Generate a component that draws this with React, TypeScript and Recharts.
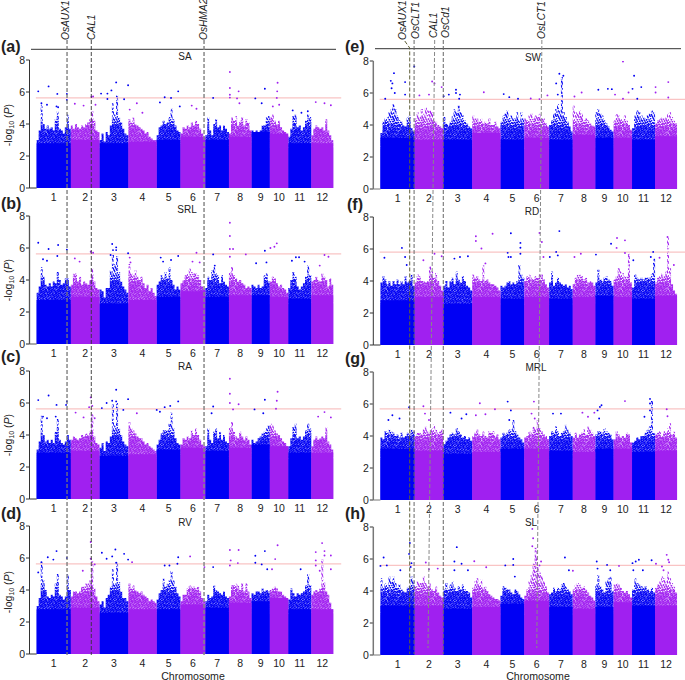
import React from 'react';
import { ComposedChart, LineChart, Area, Line, Scatter, XAxis, YAxis, ReferenceLine } from 'recharts';

const BLUE = '#0000f4';
const PURPLE = '#a020f0';
const PINK = '#f9c4c4';

// chromosome lengths in Mb
const chromLabels = ['1', '2', '3', '4', '5', '6', '7', '8', '9', '10', '11', '12'];
const chromLengths = [43, 36, 36.4, 35.5, 30, 31.2, 29.7, 28.4, 23, 23.2, 29, 27.6];
const yTicks = [0, 2, 4, 6, 8];

// height below which the SNPs merge into a solid block, per chromosome
const saFloor = [2.8, 3.0, 2.8, 2.9, 3.0, 3.2, 3.0, 3.2, 3.5, 3.4, 2.8, 2.8];
const srlFloor = [2.75, 2.95, 2.55, 2.75, 2.95, 3.3, 2.95, 3.05, 3.05, 2.95, 2.85, 3.05];
const raFloor = [2.9, 3.0, 2.7, 2.8, 3.1, 3.2, 3.0, 3.2, 3.4, 3.3, 2.9, 2.9];
const rvFloor = [2.8, 2.9, 2.6, 2.8, 2.8, 3.1, 2.9, 3.2, 3.3, 3.5, 2.8, 2.8];
const swFloor = [3.2, 3.1, 3.1, 3.5, 3.1, 3.2, 3.1, 3.4, 3.2, 3.2, 3.1, 3.3];
const rdFloor = [2.8, 3.0, 2.6, 3.0, 2.9, 3.0, 2.9, 3.0, 3.1, 3.0, 2.9, 3.1];
const mrlFloor = [3.2, 3.1, 2.9, 3.0, 3.2, 3.2, 3.1, 3.0, 3.2, 3.2, 3.0, 3.1];
const slFloor = [3.1, 3.1, 2.9, 3.0, 3.2, 3.4, 3.0, 2.9, 3.0, 3.3, 3.1, 3.1];

// top of the dense cloud along each chromosome, -log10(P)
const saTop = [
  [3.0, 3.6, 5.2, 4.0, 3.7, 3.9, 3.7, 3.8, 3.6, 4.3, 4.8, 3.7, 3.6, 3.4, 3.8, 4.6, 3.7],
  [3.9, 3.7, 4.0, 3.8, 3.7, 3.9, 3.8, 4.0, 4.1, 4.3, 4.8, 4.2, 3.6, 3.5],
  [3.0, 3.4, 2.9, 3.5, 3.3, 3.9, 5.3, 4.6, 5.8, 4.4, 4.1, 3.7, 3.4, 3.3],
  [4.3, 4.1, 4.4, 4.0, 3.9, 3.8, 3.7, 3.6, 3.4, 3.5, 3.2, 3.1, 3.0, 3.0],
  [3.3, 3.8, 3.9, 4.2, 4.0, 4.1, 4.5, 5.0, 4.3, 3.9, 3.6, 3.5],
  [3.4, 3.8, 3.7, 3.9, 3.8, 4.1, 3.9, 4.2, 4.0, 3.7, 3.4, 3.2],
  [3.3, 4.4, 3.6, 3.3, 4.0, 4.3, 3.8, 3.9, 3.6, 3.9, 3.7, 3.5],
  [3.4, 4.4, 4.2, 4.5, 3.9, 4.2, 4.4, 3.9, 4.3, 4.1, 3.6],
  [3.6, 3.5, 3.6, 3.5, 3.6, 3.9, 3.9, 4.4, 4.5],
  [4.4, 4.6, 4.2, 4.0, 4.2, 3.8, 3.6, 3.5, 3.3],
  [3.2, 3.7, 4.5, 4.6, 3.8, 3.9, 3.6, 3.8, 4.2, 4.6, 4.5],
  [3.3, 3.7, 3.9, 3.8, 3.7, 3.8, 3.6, 4.3, 3.6, 3.3, 3.0],
];
const srlTop = [
  [3.2, 3.6, 4.8, 4.2, 3.7, 3.6, 3.8, 3.6, 3.9, 3.8, 4.5, 4.0, 3.7, 3.8, 4.1, 4.1, 3.6],
  [3.7, 4.4, 4.4, 3.9, 4.2, 3.7, 3.9, 3.8, 3.7, 4.0, 4.7, 3.9, 3.5, 3.4],
  [3.4, 3.3, 2.9, 3.5, 3.5, 4.6, 5.6, 5.0, 5.5, 4.5, 3.9, 3.6, 3.4, 3.2],
  [5.0, 4.4, 4.3, 4.6, 4.2, 4.0, 4.2, 3.8, 3.5, 3.7, 3.3, 3.5, 3.2, 3.0],
  [3.7, 3.9, 4.3, 4.1, 4.5, 4.1, 4.8, 4.0, 3.7, 3.4, 3.6, 3.4],
  [3.8, 4.0, 4.3, 4.4, 4.7, 4.5, 4.4, 4.4, 4.3, 4.0, 3.6, 3.4],
  [3.5, 4.2, 4.0, 4.6, 4.8, 4.4, 4.3, 3.8, 4.3, 3.9, 3.7, 3.6],
  [4.5, 4.8, 4.3, 4.1, 3.9, 4.0, 3.8, 3.7, 3.5, 3.6, 3.5],
  [3.7, 3.6, 3.5, 3.7, 3.5, 3.6, 4.3, 4.4, 3.9],
  [3.9, 4.2, 4.1, 3.8, 3.6, 3.7, 3.5, 3.4, 3.2],
  [3.5, 4.0, 4.5, 4.2, 3.6, 3.4, 3.6, 3.8, 4.2, 4.9, 4.3],
  [3.9, 4.0, 4.2, 4.0, 3.9, 4.4, 4.2, 4.0, 3.6, 4.1, 3.7],
];
const raTop = [
  [3.1, 3.6, 5.2, 4.0, 3.6, 3.7, 3.5, 3.7, 3.5, 4.2, 5.0, 3.7, 3.5, 3.4, 3.6, 4.0, 3.7],
  [3.7, 3.9, 3.8, 3.7, 3.8, 4.0, 3.9, 4.1, 4.0, 4.2, 5.3, 3.9, 3.5, 3.4],
  [3.2, 3.5, 3.0, 3.6, 3.5, 3.9, 5.9, 4.6, 6.0, 4.4, 4.0, 3.6, 3.4, 3.3],
  [4.8, 4.4, 4.3, 4.1, 3.9, 3.8, 3.8, 3.6, 3.4, 3.5, 3.3, 3.2, 3.1, 3.0],
  [3.4, 3.7, 4.1, 4.3, 4.3, 4.3, 4.7, 5.4, 4.4, 3.8, 3.5, 3.4],
  [3.4, 3.8, 3.7, 3.9, 3.8, 4.3, 4.0, 4.4, 4.0, 3.7, 3.4, 3.3],
  [3.3, 4.4, 3.7, 3.5, 4.2, 4.4, 3.8, 4.2, 3.7, 4.0, 3.6, 3.5],
  [4.5, 4.8, 4.2, 3.9, 3.8, 4.2, 3.9, 3.7, 3.9, 3.7, 3.4],
  [3.7, 3.5, 3.6, 3.8, 3.9, 4.1, 4.2, 4.4, 4.6],
  [4.7, 4.6, 4.3, 4.1, 4.0, 3.8, 3.6, 3.5, 3.3],
  [3.3, 3.8, 4.5, 4.7, 3.8, 3.9, 3.7, 3.9, 4.3, 4.7, 4.4],
  [3.3, 3.7, 3.9, 3.7, 3.8, 3.9, 3.8, 4.5, 3.6, 3.4, 3.1],
];
const rvTop = [
  [3.0, 3.5, 5.7, 4.6, 4.0, 3.6, 3.5, 3.7, 3.6, 4.4, 5.0, 3.7, 3.6, 3.4, 3.6, 5.0, 4.0],
  [3.6, 3.9, 3.9, 3.8, 3.9, 4.2, 4.2, 4.4, 4.4, 4.6, 5.8, 4.1, 3.6, 3.3],
  [3.1, 3.3, 2.9, 3.5, 3.7, 4.2, 5.3, 4.4, 5.7, 4.5, 3.9, 3.5, 3.5, 3.3],
  [4.4, 4.1, 4.3, 4.0, 3.9, 3.8, 3.9, 3.7, 3.6, 3.5, 3.3, 3.4, 3.3, 3.2],
  [3.4, 3.8, 4.0, 4.7, 4.2, 4.4, 4.6, 5.2, 4.6, 4.2, 3.8, 3.6],
  [3.3, 3.7, 3.7, 4.1, 4.3, 4.2, 4.2, 4.1, 4.2, 3.9, 3.5, 3.3],
  [3.3, 3.7, 3.5, 3.6, 4.3, 4.0, 3.9, 3.8, 3.7, 3.9, 3.6, 3.5],
  [3.6, 4.3, 4.3, 4.4, 4.3, 4.0, 4.4, 3.9, 4.4, 3.9, 3.5],
  [3.8, 3.7, 3.9, 3.9, 3.8, 4.1, 3.9, 4.0, 3.9],
  [4.0, 4.1, 4.2, 4.1, 3.9, 3.9, 3.7, 3.6, 3.4],
  [3.4, 4.1, 3.8, 3.6, 3.8, 3.7, 3.8, 3.9, 4.3, 5.0, 4.3],
  [3.7, 3.9, 4.0, 3.9, 4.1, 5.9, 4.5, 3.9, 3.7, 3.2, 2.8],
];
const swTop = [
  [3.5, 4.2, 4.4, 4.5, 4.8, 5.0, 5.3, 5.0, 4.6, 4.3, 4.2, 4.0, 3.9, 4.5, 4.6, 3.8, 3.6],
  [4.4, 4.8, 4.5, 5.0, 4.7, 5.1, 4.9, 4.9, 4.8, 4.4, 4.2, 4.0, 3.9, 3.8],
  [4.5, 4.1, 4.0, 4.2, 4.6, 5.0, 4.8, 5.2, 4.8, 4.6, 4.3, 4.1, 3.9, 3.8],
  [4.6, 4.4, 4.4, 4.2, 4.4, 4.1, 4.2, 4.1, 4.4, 4.0, 4.0, 4.2, 3.9, 3.8],
  [4.2, 4.6, 4.7, 4.9, 4.5, 4.6, 4.4, 4.4, 4.8, 4.3, 4.8, 4.4],
  [4.4, 4.3, 4.6, 4.7, 4.4, 4.6, 4.5, 4.7, 4.4, 4.4, 4.1, 3.9],
  [4.0, 4.3, 4.7, 5.0, 5.3, 4.9, 7.0, 4.8, 4.5, 4.2, 3.9, 3.6],
  [5.2, 4.8, 4.7, 4.9, 4.7, 4.3, 4.4, 4.3, 4.1, 4.0, 3.9],
  [4.8, 5.0, 4.7, 4.6, 4.3, 4.1, 3.9, 3.7, 3.6],
  [4.3, 4.7, 4.6, 4.4, 4.3, 4.6, 4.3, 4.0, 3.7],
  [3.8, 4.6, 4.9, 4.8, 4.6, 4.5, 4.4, 4.6, 4.7, 4.9, 4.8],
  [4.1, 4.3, 4.4, 4.5, 4.4, 4.5, 4.7, 4.8, 4.5, 4.3, 4.1],
];
const rdTop = [
  [3.9, 4.3, 4.1, 3.8, 4.0, 3.7, 4.0, 3.8, 4.1, 3.8, 4.0, 3.8, 4.3, 3.9, 4.0, 4.4, 3.7],
  [3.9, 4.4, 4.3, 4.0, 4.0, 3.9, 4.0, 5.0, 4.6, 4.2, 4.5, 4.0, 3.7, 3.4],
  [3.7, 4.0, 3.6, 4.0, 4.2, 3.8, 4.6, 4.1, 3.9, 4.3, 4.0, 3.7, 3.6, 3.4],
  [4.4, 4.2, 4.3, 4.1, 4.0, 5.0, 4.0, 4.1, 3.9, 3.8, 3.8, 3.7, 3.6, 3.4],
  [3.7, 3.6, 3.7, 3.9, 4.0, 3.8, 3.9, 3.8, 4.0, 5.0, 4.4, 4.2],
  [4.0, 4.3, 4.4, 4.2, 4.1, 4.3, 4.2, 4.4, 4.4, 4.1, 3.8, 3.6],
  [3.9, 4.6, 3.7, 3.9, 4.2, 3.9, 3.8, 3.7, 3.8, 3.6, 3.7, 3.5],
  [3.8, 4.2, 4.4, 4.4, 4.3, 4.1, 4.2, 3.9, 4.0, 3.9, 3.7],
  [3.9, 4.7, 4.1, 4.0, 4.2, 4.3, 4.1, 4.0, 3.7],
  [4.1, 4.3, 4.8, 4.6, 4.5, 4.3, 4.3, 5.7, 3.9],
  [3.6, 4.4, 4.2, 4.1, 4.2, 4.1, 4.2, 4.2, 4.2, 4.5, 5.4],
  [3.9, 4.2, 4.3, 4.5, 4.3, 4.6, 6.7, 4.8, 3.8, 3.4, 3.2],
];
const mrlTop = [
  [3.9, 3.8, 4.3, 4.2, 4.4, 4.3, 4.2, 4.0, 4.1, 3.9, 4.2, 3.9, 4.0, 4.2, 4.1, 4.4, 4.3],
  [4.0, 4.2, 4.2, 4.1, 4.4, 4.6, 4.3, 4.2, 4.5, 4.7, 4.4, 4.2, 4.3, 4.4],
  [3.5, 3.7, 3.9, 4.1, 4.2, 4.1, 4.5, 4.3, 4.1, 3.9, 4.0, 3.8, 3.9, 3.7],
  [4.0, 4.2, 4.4, 4.1, 4.0, 4.3, 4.0, 3.9, 4.3, 4.2, 4.3, 4.0, 4.1, 3.8],
  [3.9, 4.2, 4.1, 4.2, 4.4, 4.4, 5.0, 4.3, 4.1, 3.9, 3.8, 3.6],
  [3.9, 4.0, 4.3, 4.2, 4.6, 4.4, 5.0, 4.5, 4.3, 4.1, 4.0, 3.8],
  [4.0, 4.3, 4.2, 4.6, 4.3, 4.0, 4.2, 4.3, 4.7, 4.4, 4.2, 4.0],
  [3.9, 4.2, 3.9, 4.1, 4.2, 4.4, 4.1, 4.6, 4.4, 4.2, 4.0],
  [4.1, 4.3, 4.3, 4.2, 4.5, 4.3, 4.2, 4.1, 3.8],
  [3.8, 4.3, 4.1, 3.9, 4.0, 3.9, 4.2, 4.1, 3.6],
  [3.6, 3.7, 3.9, 3.8, 4.0, 4.0, 4.2, 4.4, 4.6, 6.2, 4.2],
  [4.1, 4.2, 4.3, 4.0, 4.3, 4.2, 4.5, 4.8, 4.1, 4.3, 3.9],
];
const slTop = [
  [4.8, 4.2, 4.5, 4.4, 4.9, 4.6, 4.9, 4.5, 4.2, 4.4, 4.1, 4.0, 3.9, 4.2, 4.3, 4.9, 4.6],
  [4.3, 4.6, 4.5, 4.5, 4.9, 4.5, 4.3, 4.5, 4.1, 4.0, 4.3, 3.9, 3.7, 3.6],
  [4.1, 4.5, 4.1, 4.4, 4.6, 4.2, 4.0, 4.3, 4.1, 4.4, 4.1, 4.0, 3.9, 3.6],
  [4.2, 4.6, 4.8, 4.5, 4.7, 4.2, 4.3, 4.0, 3.8, 3.7, 3.6, 3.5, 3.5, 3.4],
  [3.7, 4.3, 4.2, 4.1, 4.1, 3.9, 3.8, 4.1, 4.0, 3.8, 3.6, 3.5],
  [3.7, 4.1, 4.6, 5.0, 5.7, 6.7, 5.5, 5.2, 4.9, 4.6, 4.3, 3.9],
  [3.8, 3.9, 4.2, 4.0, 4.2, 4.1, 4.4, 4.5, 4.3, 4.1, 4.0, 3.8],
  [4.1, 4.4, 4.5, 4.4, 4.2, 4.3, 4.1, 3.9, 3.7, 3.6, 3.4],
  [4.4, 5.0, 4.3, 4.1, 3.9, 4.6, 4.8, 4.9, 4.0],
  [4.4, 4.5, 4.4, 4.2, 4.0, 3.9, 4.0, 3.8, 3.6],
  [4.1, 4.8, 4.5, 4.4, 4.3, 4.2, 4.3, 4.1, 4.0, 4.2, 3.9],
  [4.2, 4.4, 4.6, 4.9, 4.8, 4.6, 5.2, 4.8, 4.5, 4.3, 3.9],
];

// single SNPs above the cloud: [genome position in Mb, -log10(P)]
const saDots = [[2, 6.04], [15, 6.35], [26, 5.88], [38, 5.88], [38, 5.5], [6, 5.3], [13, 5.2], [25, 5.1], [27, 5.05], [48, 5.27], [59, 5.15], [69, 5.7], [71, 5.72], [74, 5.2], [81, 5.9], [89, 5.9], [94, 6.1], [100, 6.6], [110, 5.55], [115, 6.42], [89, 5.56], [117, 4.9], [126, 5.3], [133, 4.7], [161, 5.67], [155, 5.35], [169, 5.63], [178, 6.04], [180, 5.1], [195, 5.15], [201, 4.95], [222, 5.63], [243, 7.25], [243, 6.25], [243, 5.83], [243, 5.65], [254, 6.04], [252, 5.6], [255, 5.3], [275, 5.6], [287, 6.2], [283, 5.3], [303, 6.58], [302.5, 6.04], [302, 5.63], [305, 5.2], [297, 5.1], [351, 5.37], [362, 5.3], [370, 5.17], [322, 4.85], [333, 4.7], [341, 4.8]];
const srlDots = [[2, 6.33], [15, 5.94], [27, 6.19], [26, 5.5], [38, 5.9], [8, 5.3], [13, 5.2], [68, 5.77], [71, 5.7], [48, 5.35], [54, 5.15], [95, 6.25], [100, 6.04], [96, 5.87], [93, 5.56], [100, 5.87], [115, 5.67], [117, 5.4], [118, 5.1], [156, 5.4], [178, 5.5], [169, 5.25], [159, 5.15], [201, 5.7], [196, 5.15], [205, 5.1], [222, 5.6], [224, 4.9], [243, 7.58], [243, 6.75], [243, 5.94], [247, 5.94], [243, 5.45], [263, 5.6], [287, 5.83], [294, 6.0], [302, 6.29], [299, 6.08], [289, 5.1], [276, 5.05], [326, 5.42], [330, 5.42], [362, 5.56], [367, 5.45], [356, 4.9], [337, 5.15], [321, 5.2]];
const raDots = [[2, 6.18], [15, 6.47], [25, 5.88], [38, 6.1], [37, 5.88], [8, 5.15], [13, 5.05], [24, 5.15], [68, 6.35], [66, 5.74], [70, 5.82], [49, 5.4], [59, 5.1], [73, 5.05], [88, 6.0], [82, 5.68], [95, 6.14], [100, 6.83], [100, 6.1], [109, 5.57], [115, 6.24], [126, 5.36], [151, 5.57], [161, 5.74], [168, 5.82], [178, 6.1], [155, 5.45], [222, 5.78], [220, 5.36], [243, 7.52], [243, 6.58], [243, 6.0], [254, 5.92], [247, 5.6], [274, 5.6], [287, 6.2], [303, 6.7], [302, 6.14], [301, 5.64], [285, 5.36], [362, 5.43], [370, 5.1], [354, 5.15]];
const rvDots = [[6, 5.74], [14, 6.05], [25, 6.43], [21, 5.9], [38, 6.0], [2, 5.1], [68, 7.0], [68, 5.95], [73, 5.6], [58, 5.2], [82, 6.33], [88, 5.95], [95, 6.1], [99, 6.53], [110, 6.26], [115, 5.9], [120, 5.74], [100, 5.7], [161, 5.53], [167, 5.53], [178, 6.05], [177, 5.64], [193, 6.1], [211, 5.43], [222, 5.43], [243, 6.5], [254, 6.5], [244, 5.85], [243, 5.53], [253, 5.68], [275, 6.14], [287, 6.43], [275, 5.7], [283, 5.6], [303, 6.8], [300, 5.93], [290, 5.3], [296, 5.3], [332, 5.3], [351, 6.37], [351, 5.85], [351, 5.53], [359, 6.93], [362, 6.43], [362, 6.16], [370, 6.16], [356, 5.2], [370, 5.3]];
const swDots = [[13, 6.76], [17, 7.24], [15, 6.6], [31, 6.68], [14, 6.3], [18, 6.0], [31, 5.9], [6, 5.64], [42.5, 7.66], [49, 5.85], [61, 5.9], [65, 6.72], [68, 6.6], [77, 6.37], [79.5, 5.8], [95, 6.2], [95, 6.0], [86, 5.9], [100, 5.9], [99, 5.64], [130, 6.05], [155, 5.93], [162, 5.74], [173, 5.64], [189, 5.66], [200, 5.62], [210, 5.85], [225, 7.2], [230, 7.08], [221, 6.6], [223, 5.9], [244, 5.78], [253, 6.03], [274, 6.2], [286, 6.26], [291, 6.24], [295, 5.9], [305, 7.97], [312, 6.03], [317, 6.26], [319, 7.08], [328, 6.37], [323, 5.64], [346, 6.37], [346, 6.03], [362, 6.68], [362, 5.72], [305, 5.64]];
const rdDots = [[27, 6.07], [5, 5.45], [31, 5.5], [33, 5.0], [120, 6.8], [120, 6.5], [127, 6.03], [141, 6.95], [164, 6.98], [160, 5.76], [176, 6.38], [176, 6.08], [176, 5.7], [161, 5.5], [164, 5.5], [200, 7.0], [203, 6.44], [205, 5.5], [225, 7.12], [221, 5.82], [223, 5.6], [252, 5.7], [244, 5.5], [271, 5.65], [290, 6.33], [297.5, 6.69], [307.5, 6.54], [297, 6.07], [307.5, 5.75], [343, 5.82], [340, 5.5], [361, 6.75], [68, 5.7], [77, 5.55], [54, 5.3], [100, 5.5], [93, 5.4], [110, 5.55], [369, 5.0], [351, 5.45], [318, 5.3], [213, 5.5], [132, 5.1]];
const mrlDots = [[36, 5.8], [54, 5.86], [56, 5.4], [61, 5.0], [88, 5.46], [108, 5.36], [102, 5.09], [125, 6.05], [120, 5.3], [144, 5.67], [132, 5.36], [160, 6.15], [164, 5.6], [162, 5.0], [193, 6.15], [190, 5.4], [194, 5.09], [217, 5.4], [227, 5.4], [254, 5.46], [261, 5.2], [269, 5.46], [273, 5.6], [276, 5.82], [278, 5.92], [275, 5.09], [307.5, 6.18], [339, 6.32], [339, 6.03], [339, 5.6], [332, 5.2], [360, 5.67], [361, 5.23], [15, 5.3], [24, 5.09], [10, 5.0]];
const slDots = [[0, 5.57], [4, 6.09], [8, 5.6], [25, 5.3], [36, 6.32], [39, 5.74], [38, 5.5], [37, 7.0], [57, 5.78], [61, 5.36], [72, 5.4], [96, 6.74], [93, 5.84], [102, 5.7], [110, 5.3], [93, 5.3], [118, 5.86], [133, 5.48], [157, 5.6], [167, 6.0], [167, 5.63], [169, 4.9], [191, 7.88], [192, 7.3], [191, 6.8], [196, 5.95], [202, 5.84], [200, 5.6], [232, 6.09], [237, 5.3], [242, 5.27], [272, 5.84], [285, 5.63], [273, 5.4], [289, 5.3], [300, 5.57], [317, 5.74], [321, 5.84], [325, 5.95], [341, 5.92], [318, 5.3], [346.5, 5.7], [354, 5.53], [360, 6.26], [362, 5.95], [363, 5.8], [356, 5.3], [330, 5.3]];

// gene tracks across the panels: position in Mb at the top and at the bottom of the figure
const leftGenes = [
  { name: 'OsAUX1', path: [{ x: 38.2, y: 40 }, { x: 38.2, y: 655 }], color: '#777', w: 1.3 },
  { name: 'CAL1', path: [{ x: 68.7, y: 40 }, { x: 68.7, y: 655 }], color: '#333', w: 0.9 },
  { name: 'OsHMA2', path: [{ x: 210.5, y: 40 }, { x: 210.5, y: 655 }], color: '#888', w: 1.5 },
];
const rightGenes = [
  { name: 'OsAUX1', path: [{ x: 30.6, y: 41 }, { x: 36.8, y: 48 }, { x: 36.8, y: 654 }], color: '#5f5f38', w: 1 },
  { name: 'OsCLT1', path: [{ x: 42.3, y: 40 }, { x: 42.3, y: 654 }], color: '#666', w: 1 },
  { name: 'CAL1', path: [{ x: 68.2, y: 40 }, { x: 59.8, y: 648 }], color: '#888', w: 1 },
  { name: 'OsCd1', path: [{ x: 79, y: 40 }, { x: 79, y: 654 }], color: '#666', w: 1 },
  { name: 'OsLCT1', path: [{ x: 203, y: 40 }, { x: 196.6, y: 648 }], color: '#888', w: 1 },
];

const X_DOMAIN = [-9, 383];
const LEFT_COL = { left: 0, width: 342, marginLeft: 7.5, marginRight: 0.8 };
const RIGHT_COL = { left: 340, width: 345, marginLeft: 11.3, marginRight: 0 };

const chromStarts = chromLengths.map((_, i) => chromLengths.slice(0, i).reduce((a, b) => a + b, 0));
const chromMids = chromLengths.map((len, i) => chromStarts[i] + len / 2);

const buildRows = (tops: number[][], floors: number[]) => {
  const rows: any[] = [];
  tops.forEach((bins, c) => {
    const key = c % 2 === 0 ? 'blue' : 'purple';
    const floorKey = key + 'Floor';
    bins.forEach((v, j) =>
      rows.push({ x: chromStarts[c] + (j * chromLengths[c]) / bins.length, [key]: v, [floorKey]: floors[c] })
    );
    rows.push({ x: chromStarts[c] + chromLengths[c], [key]: bins[bins.length - 1], [floorKey]: floors[c] });
  });
  return rows;
};

const chromOf = (x: number) => chromStarts.findIndex((s, i) => x >= s && x < s + chromLengths[i]);

const dot = (fill: string) => (p: any) => <circle cx={p.cx} cy={p.cy} r={0.95} fill={fill} />;

interface PanelProps {
  col: typeof LEFT_COL;
  y8: number;
  tops: number[][];
  floors: number[];
  dots: number[][];
  threshold: number;
  spine?: string;
  spineW?: number;
}

const Panel: React.FC<PanelProps> = ({ col, y8, tops, floors, dots, threshold, spine = '#333', spineW = 1 }) => {
  const rows = buildRows(tops, floors);
  const pts = dots.map(([x, y]) => ({ x, y }));
  const bluePts = pts.filter(p => chromOf(p.x) % 2 === 0);
  const purplePts = pts.filter(p => chromOf(p.x) % 2 === 1);
  return (
    <div style={{ position: 'absolute', left: col.left, top: y8 - 10 }}>
      <ComposedChart
        width={col.width}
        height={158}
        data={rows}
        margin={{ top: 10, bottom: 0, left: col.marginLeft, right: col.marginRight }}
      >
        <XAxis
          dataKey="x"
          type="number"
          domain={X_DOMAIN}
          ticks={chromMids}
          interval={0}
          height={20}
          allowDataOverflow
          axisLine={false}
          tickLine={false}
          tickMargin={0}
          tick={{ fontSize: 10.5, fill: '#222' }}
          tickFormatter={(v: number) => chromLabels[chromMids.indexOf(v)]}
        />
        <YAxis
          dataKey="y"
          type="number"
          domain={[0, 8]}
          ticks={yTicks}
          width={22}
          allowDataOverflow
          stroke={spine}
          strokeWidth={spineW}
          tickSize={3.5}
          tickMargin={1}
          tick={{ fontSize: 10.5, fill: '#222' }}
        />
        <Area dataKey="blue" type="stepAfter" fill="url(#speckBlue)" fillOpacity={1} stroke="none" dot={false} activeDot={false} isAnimationActive={false} />
        <Area dataKey="purple" type="stepAfter" fill="url(#speckPurple)" fillOpacity={1} stroke="none" dot={false} activeDot={false} isAnimationActive={false} />
        <Area dataKey="blueFloor" type="stepAfter" fill={BLUE} fillOpacity={1} stroke="none" dot={false} activeDot={false} isAnimationActive={false} />
        <Area dataKey="purpleFloor" type="stepAfter" fill={PURPLE} fillOpacity={1} stroke="none" dot={false} activeDot={false} isAnimationActive={false} />
        <Scatter data={bluePts} dataKey="y" shape={dot(BLUE)} isAnimationActive={false} />
        <Scatter data={purplePts} dataKey="y" shape={dot(PURPLE)} isAnimationActive={false} />
        <ReferenceLine segment={[{ x: -1, y: threshold }, { x: 383, y: threshold }]} stroke={PINK} strokeWidth={1.2} />
        <ReferenceLine segment={[{ x: -9, y: 0 }, { x: 0, y: 0 }]} stroke={spine} strokeWidth={1} />
      </ComposedChart>
    </div>
  );
};

const GeneTracks: React.FC<{ col: typeof LEFT_COL; genes: typeof leftGenes }> = ({ col, genes }) => (
  <div style={{ position: 'absolute', left: col.left, top: 0 }}>
    <LineChart
      width={col.width}
      height={680}
      margin={{ top: 0, bottom: 0, left: col.marginLeft + 22, right: col.marginRight }}
    >
      <XAxis dataKey="x" type="number" domain={X_DOMAIN} hide height={0} />
      <YAxis dataKey="y" type="number" domain={[0, 680]} reversed hide />
      {genes.map(g => (
        <Line
          key={g.name}
          data={g.path}
          dataKey="y"
          stroke={g.color}
          strokeWidth={g.w}
          strokeDasharray="4 2"
          dot={false}
          activeDot={false}
          isAnimationActive={false}
        />
      ))}
    </LineChart>
  </div>
);

const panelLetters = [
  ['(a)', 1, 52], ['(b)', 1, 209], ['(c)', 1, 362], ['(d)', 1, 519],
  ['(e)', 345, 52], ['(f)', 347, 210], ['(g)', 345, 364], ['(h)', 345, 519],
];
const panelTitles = [
  ['SA', 185, 60], ['SRL', 187, 213], ['RA', 185, 370], ['RV', 185, 526],
  ['SW', 533, 61], ['RD', 532, 215], ['MRL', 536, 371], ['SL', 531, 526],
];
const geneLabels = [
  ['OsAUX1', 69, 40], ['CAL1', 94.5, 40], ['OsHMA2', 207, 40],
  ['OsAUX1', 406, 40], ['OsCLT1', 419, 39], ['CAL1', 437, 38], ['OsCd1', 448.5, 38], ['OsLCT1', 545, 39],
];
const yLabels = [125, 280, 435, 592];

// texture for the loose part of the cloud: thick near the solid block, thinning upwards.
// the tile lines up with each chart's own y scale (16 px per unit, value 8 at y = 10)
const TILE_W = 47;
const TILE_H = 158;
const tileDensity = (v: number) => (v < 3.6 ? 1.7 : v < 4.4 ? 1.7 - (v - 3.6) * 1.4 : 0.58);
const tileDots = (() => {
  const out: number[][] = [];
  let k = 0;
  for (let v = 2.5; v < 8; v += 0.08) {
    const n = Math.round((TILE_W / 1.6) * tileDensity(v));
    for (let i = 0; i < n; i++) {
      k += 1;
      out.push([((k * 0.618034) % 1) * TILE_W, 10 + 16 * (8 - v) + (((k * 0.754877) % 1) - 0.5) * 5]);
    }
  }
  return out;
})();

const speckTile = (id: string, fill: string) => (
  <pattern id={id} width={TILE_W} height={TILE_H} patternUnits="userSpaceOnUse">
    <rect x={0} y={10 + 16 * 5.5} width={TILE_W} height={TILE_H} fill={fill} />
    {tileDots.map(([x, y], i) => (
      <circle key={i} cx={x} cy={y} r={0.8} fill={fill} />
    ))}
  </pattern>
);

const Annotations = () => (
  <svg width={685} height={680} style={{ position: 'absolute', left: 0, top: 0 }}>
    <defs>
      {speckTile('speckBlue', BLUE)}
      {speckTile('speckPurple', PURPLE)}
    </defs>
    <line x1={31} x2={336} y1={49.3} y2={49.3} stroke="#333" strokeWidth={1} />
    <line x1={375} x2={681} y1={48.7} y2={48.7} stroke="#333" strokeWidth={1} />
    {panelLetters.map(([t, x, y]) => (
      <text key={t as string} x={x} y={y} fontSize={16} fontWeight="bold" fill="#222">{t}</text>
    ))}
    {panelTitles.map(([t, x, y]) => (
      <text key={t as string} x={x} y={y} fontSize={10} textAnchor="middle" fill="#222">{t}</text>
    ))}
    {geneLabels.map(([t, x, y], i) => (
      <text key={i} transform={`translate(${x},${y}) rotate(-90)`} fontSize={10.2} fontStyle="italic" fill="#222">{t}</text>
    ))}
    {yLabels.map(y => (
      <text key={y} transform={`translate(12,${y}) rotate(-90)`} fontSize={10.5} textAnchor="middle" fill="#222">
        -log<tspan fontSize={7} dy={2}>10</tspan><tspan dy={-2}> (</tspan><tspan fontStyle="italic">P</tspan>)
      </text>
    ))}
    <text x={193} y={679.5} fontSize={10.6} textAnchor="middle" fill="#222">Chromosome</text>
    <text x={538} y={679.5} fontSize={10.6} textAnchor="middle" fill="#222">Chromosome</text>
  </svg>
);

const App = () => (
  <div style={{ position: 'absolute', left: 0, top: 0, width: 685, height: 680, overflow: 'hidden', fontFamily: '"Liberation Sans", Arial, sans-serif', background: '#fff' }}>
    <Annotations />
    <Panel col={LEFT_COL} y8={60} tops={saTop} floors={saFloor} dots={saDots} threshold={5.63} />
    <Panel col={LEFT_COL} y8={216} tops={srlTop} floors={srlFloor} dots={srlDots} threshold={5.63} spine="#555" spineW={1.3} />
    <Panel col={LEFT_COL} y8={371} tops={raTop} floors={raFloor} dots={raDots} threshold={5.63} />
    <Panel col={LEFT_COL} y8={526} tops={rvTop} floors={rvFloor} dots={rvDots} threshold={5.63} />
    <Panel col={RIGHT_COL} y8={61} tops={swTop} floors={swFloor} dots={swDots} threshold={5.6} spine="#777" spineW={1.5} />
    <Panel col={RIGHT_COL} y8={217} tops={rdTop} floors={rdFloor} dots={rdDots} threshold={5.8} />
    <Panel col={RIGHT_COL} y8={372} tops={mrlTop} floors={mrlFloor} dots={mrlDots} threshold={5.7} spine="#777" spineW={1.5} />
    <Panel col={RIGHT_COL} y8={527} tops={slTop} floors={slFloor} dots={slDots} threshold={5.6} spine="#777" spineW={1.5} />
    <GeneTracks col={LEFT_COL} genes={leftGenes} />
    <GeneTracks col={RIGHT_COL} genes={rightGenes} />
  </div>
);

export default App;
